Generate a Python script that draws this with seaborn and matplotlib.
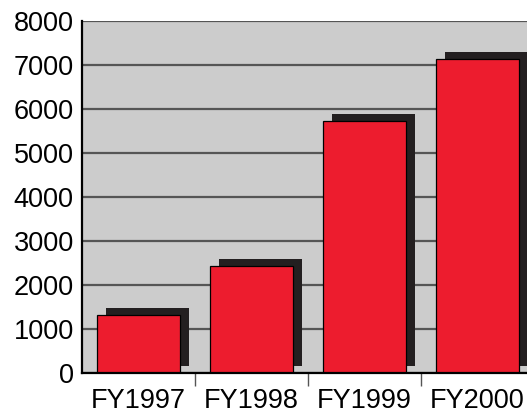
import matplotlib
matplotlib.use("Agg")
import matplotlib.pyplot as plt
import matplotlib.transforms as mtransforms
import pandas as pd
import seaborn as sns

# --- data --------------------------------------------------------------
years = ["FY1997", "FY1998", "FY1999", "FY2000"]
values = [1320, 2430, 5730, 7140]
y_ticks = [0, 1000, 2000, 3000, 4000, 5000, 6000, 7000, 8000]

df = pd.DataFrame({"year": years, "value": values})

sns.set_theme(style="white")
plt.rcParams["font.family"] = ["Liberation Sans", "DejaVu Sans"]

fig = plt.figure(figsize=(5.27, 4.13), dpi=100)
# axes runs a little past the right edge of the figure, as in the original
ax = fig.add_axes([82 / 527, 40 / 413, 452 / 527, 352 / 413])
ax.set_facecolor("#cccccc")

# drop shadow: same bars, shifted right and up
sns.barplot(data=df, x="year", y="value", color="#231f20", width=0.73,
            saturation=1, linewidth=0, ax=ax, zorder=2)
shift = mtransforms.ScaledTranslation(9 / 100, 7 / 100, fig.dpi_scale_trans)
for p in ax.patches:
    p.set_transform(ax.transData + shift)

# red bars on top
sns.barplot(data=df, x="year", y="value", color="#ed1c2e", width=0.73,
            saturation=1, edgecolor="black", linewidth=0.9, ax=ax, zorder=3)

ax.set_ylim(0, 8000)
ax.set_xlim(-0.5, 3.5)
ax.set_yticks(y_ticks)
ax.yaxis.grid(True, color="#555555", linewidth=1.6, zorder=1)
ax.set_axisbelow(True)

ax.set_xlabel("")
ax.set_ylabel("")
ax.tick_params(axis="y", length=0, pad=6, labelsize=19.5, colors="black")
ax.tick_params(axis="x", which="major", length=0, pad=11, labelsize=19.5,
               colors="black")
ax.set_xticks([0.5, 1.5, 2.5], minor=True)
ax.tick_params(axis="x", which="minor", length=9, width=1, color="#555555",
               direction="out", bottom=True)

for side in ["top", "right"]:
    ax.spines[side].set_visible(False)
for side in ["left", "bottom"]:
    ax.spines[side].set_color("black")
    ax.spines[side].set_linewidth(1.6)
    ax.spines[side].set_zorder(4)

fig.savefig("out.png", dpi=100)
